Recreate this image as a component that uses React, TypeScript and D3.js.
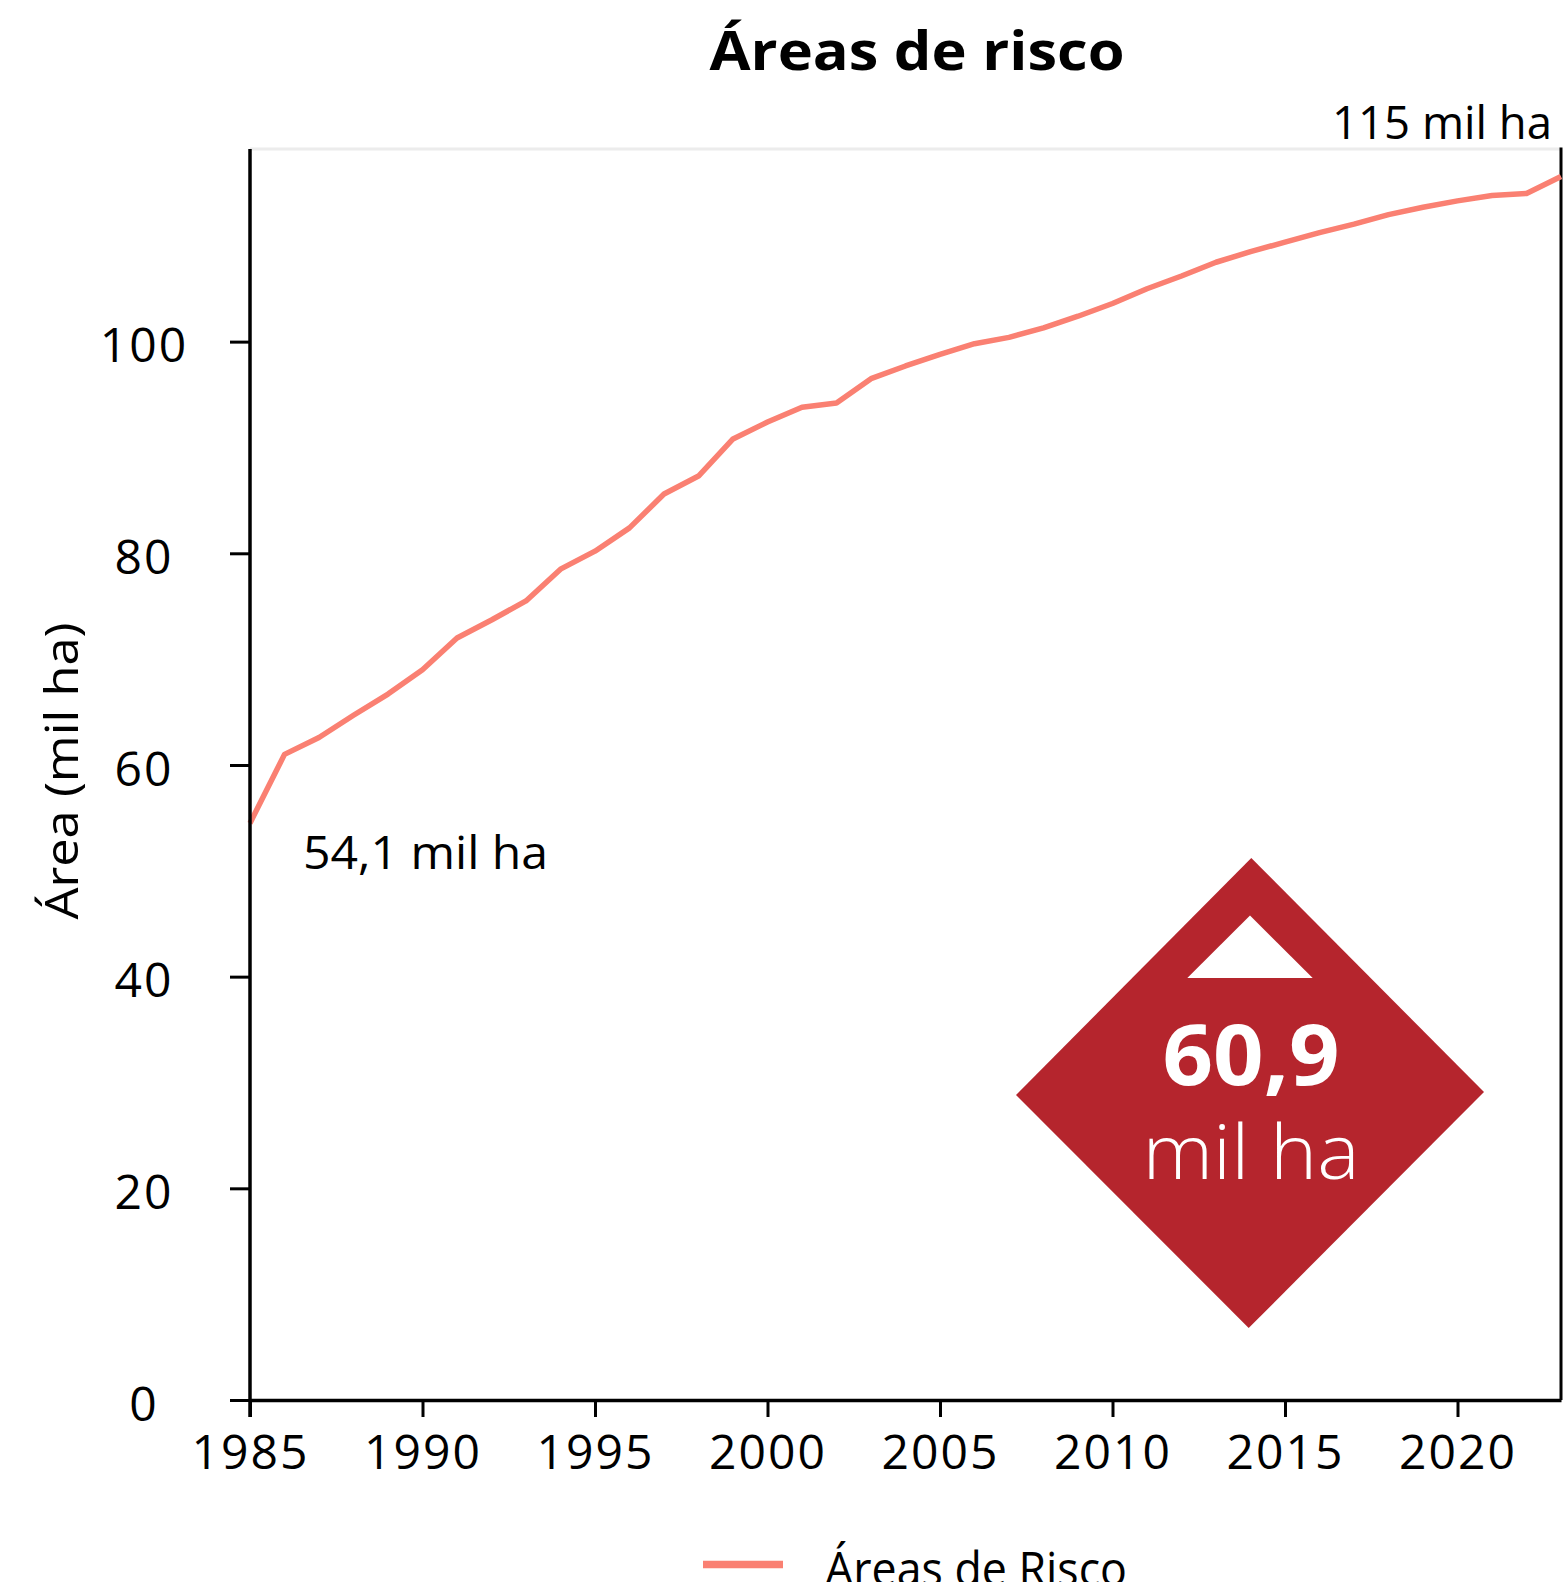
import React, { useEffect, useRef } from 'react';
import * as d3 from 'd3';

// ---- data ----
const years = [
  1985, 1986, 1987, 1988, 1989, 1990, 1991, 1992, 1993, 1994,
  1995, 1996, 1997, 1998, 1999, 2000, 2001, 2002, 2003, 2004,
  2005, 2006, 2007, 2008, 2009, 2010, 2011, 2012, 2013, 2014,
  2015, 2016, 2017, 2018, 2019, 2020, 2021, 2022, 2023,
];
const areasRisco = [
  54.5, 61.0, 62.6, 64.7, 66.7, 69.0, 72.0, 73.7, 75.5, 78.5,
  80.2, 82.4, 85.6, 87.3, 90.8, 92.4, 93.8, 94.2, 96.5, 97.7,
  98.8, 99.8, 100.4, 101.3, 102.4, 103.6, 105.0, 106.2, 107.5, 108.5,
  109.4, 110.3, 111.1, 112.0, 112.7, 113.3, 113.8, 114.0, 115.6,
];
const xTickValues = [1985, 1990, 1995, 2000, 2005, 2010, 2015, 2020];
const yTickValues = [0, 20, 40, 60, 80, 100];
const titleText = 'Áreas de risco';
const yLabelText = 'Área (mil ha)';
const legendText = 'Áreas de Risco';
const startLabel = '54,1 mil ha';
const endLabel = '115 mil ha';
const changeValue = '60,9';
const changeUnit = 'mil ha';

// ---- layout ----
const W = 1563;
const H = 1582;
const PLOT = { left: 250, right: 1561, top: 149, bottom: 1400 };
const Y_MAX = 118.2;
const FONT = "'Open Sans', 'Noto Sans', sans-serif";
const LINE_COLOR = '#FA8072';
const BADGE_COLOR = '#B5252D';

export default function App() {
  const ref = useRef<SVGSVGElement | null>(null);

  useEffect(() => {
    const svg = d3.select(ref.current);
    svg.selectAll('*').remove();

    const x = d3.scaleLinear().domain([1985, 2023]).range([PLOT.left, PLOT.right]);
    const y = d3.scaleLinear().domain([0, Y_MAX]).range([PLOT.bottom, PLOT.top]);

    svg.append('rect').attr('width', W).attr('height', H).attr('fill', '#fff');

    // title
    svg.append('text')
      .attr('x', 917).attr('y', 70)
      .attr('text-anchor', 'middle')
      .attr('font-family', FONT).attr('font-weight', 700).attr('font-size', 54)
      .attr('textLength', 415).attr('lengthAdjust', 'spacingAndGlyphs')
      .attr('fill', '#000')
      .text(titleText);

    // top frame (light) and right spine
    svg.append('line')
      .attr('x1', PLOT.left).attr('x2', PLOT.right)
      .attr('y1', PLOT.top).attr('y2', PLOT.top)
      .attr('stroke', '#ececec').attr('stroke-width', 3);
    svg.append('line')
      .attr('x1', PLOT.right).attr('x2', PLOT.right)
      .attr('y1', PLOT.top - 1.5).attr('y2', PLOT.bottom)
      .attr('stroke', '#000').attr('stroke-width', 3);

    // line
    const line = d3.line<number>()
      .x((_, i) => x(years[i]))
      .y((d) => y(d));
    svg.append('path')
      .datum(areasRisco)
      .attr('d', line)
      .attr('fill', 'none')
      .attr('stroke', LINE_COLOR)
      .attr('stroke-width', 5.5)
      .attr('stroke-linejoin', 'round');

    // x axis
    const gx = svg.append('g')
      .attr('transform', `translate(0,${PLOT.bottom})`)
      .call(
        d3.axisBottom(x)
          .tickValues(xTickValues)
          .tickFormat(d3.format('d'))
          .tickSize(17)
          .tickSizeOuter(0)
          .tickPadding(18)
      );
    gx.select('.domain').attr('stroke', '#000').attr('stroke-width', 3.5);
    gx.selectAll('.tick line').attr('stroke', '#000').attr('stroke-width', 3);
    gx.selectAll('.tick text')
      .attr('font-family', FONT).attr('font-size', 48).attr('fill', '#000')
      .attr('letter-spacing', 2);

    // y axis
    const gy = svg.append('g')
      .attr('transform', `translate(${PLOT.left},0)`)
      .call(
        d3.axisLeft(y)
          .tickValues(yTickValues)
          .tickFormat(d3.format('d'))
          .tickSize(20)
          .tickSizeOuter(0)
          .tickPadding(48)
      );
    gy.select('.domain').attr('stroke', '#000').attr('stroke-width', 3.5)
      .attr('d', `M0,${PLOT.top}V${PLOT.bottom + 17}`);
    gy.selectAll('.tick line').attr('stroke', '#000').attr('stroke-width', 3);
    gy.selectAll('.tick text')
      .attr('font-family', FONT).attr('font-size', 48).attr('fill', '#000')
      .attr('letter-spacing', 2)
      .attr('text-anchor', 'middle')
      .attr('x', 144 - PLOT.left)
      .attr('dy', '0.42em');

    // y label
    svg.append('text')
      .attr('transform', `translate(78,771) rotate(-90)`)
      .attr('text-anchor', 'middle')
      .attr('font-family', FONT).attr('font-size', 46)
      .attr('textLength', 297).attr('lengthAdjust', 'spacingAndGlyphs')
      .attr('fill', '#000')
      .text(yLabelText);

    // annotations
    svg.append('text')
      .attr('x', 1552).attr('y', 139)
      .attr('text-anchor', 'end')
      .attr('font-family', FONT).attr('font-size', 46)
      .attr('textLength', 220).attr('lengthAdjust', 'spacingAndGlyphs')
      .attr('fill', '#000')
      .text(endLabel);
    svg.append('text')
      .attr('x', 303).attr('y', 869)
      .attr('font-family', FONT).attr('font-size', 46)
      .attr('textLength', 245).attr('lengthAdjust', 'spacingAndGlyphs')
      .attr('fill', '#000')
      .text(startLabel);

    // badge (diamond)
    const cx = 1250;
    const cy = 1093;
    const diamond: [number, number][] = [
      [cx + 1.3, cy - 235],
      [cx + 234, cy - 1],
      [cx - 1.3, cy + 235],
      [cx - 234, cy + 2],
    ];
    svg.append('polygon')
      .attr('points', diamond.map((p) => p.join(',')).join(' '))
      .attr('fill', BADGE_COLOR);
    const tri: [number, number][] = [
      [cx, cy - 177.5],
      [cx + 62.7, cy - 115],
      [cx - 62.7, cy - 115],
    ];
    svg.append('polygon')
      .attr('points', tri.map((p) => p.join(',')).join(' '))
      .attr('fill', '#fff');
    svg.append('text')
      .attr('x', cx + 1).attr('y', cy - 8)
      .attr('text-anchor', 'middle')
      .attr('font-family', FONT).attr('font-weight', 700).attr('font-size', 84)
      .attr('textLength', 177).attr('lengthAdjust', 'spacingAndGlyphs')
      .attr('fill', '#fff')
      .text(changeValue);
    svg.append('text')
      .attr('x', cx + 1).attr('y', cy + 86)
      .attr('text-anchor', 'middle')
      .attr('font-family', FONT).attr('font-weight', 300).attr('font-size', 76)
      .attr('textLength', 217).attr('lengthAdjust', 'spacingAndGlyphs')
      .attr('fill', '#fff')
      .text(changeUnit);

    // legend
    svg.append('line')
      .attr('x1', 703).attr('x2', 783)
      .attr('y1', 1564.5).attr('y2', 1564.5)
      .attr('stroke', LINE_COLOR).attr('stroke-width', 7.5);
    svg.append('text')
      .attr('x', 825).attr('y', 1586)
      .attr('font-family', FONT).attr('font-size', 47)
      .attr('textLength', 302).attr('lengthAdjust', 'spacingAndGlyphs')
      .attr('fill', '#000')
      .text(legendText);
  }, []);

  return (
    <svg
      ref={ref}
      width={W}
      height={H}
      style={{ position: 'absolute', left: 0, top: 0, display: 'block' }}
    />
  );
}
